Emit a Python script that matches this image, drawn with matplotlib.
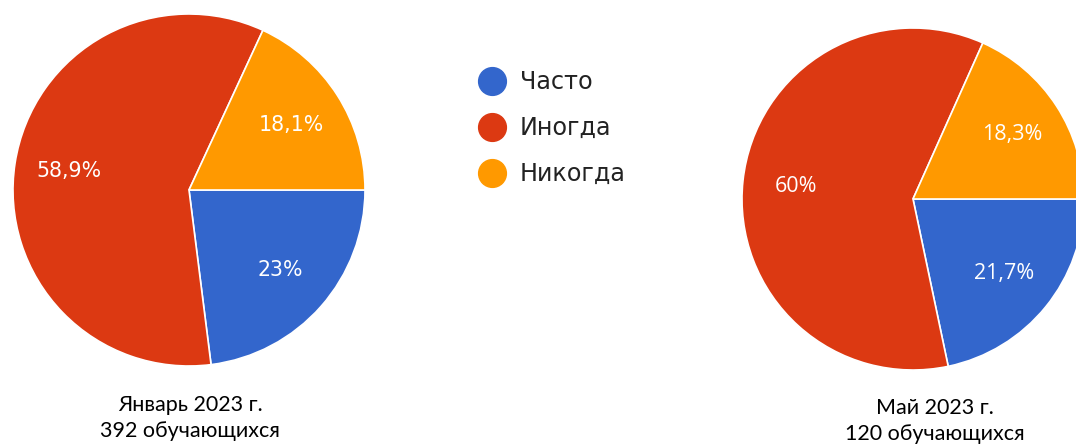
import matplotlib
matplotlib.use("Agg")
import matplotlib.pyplot as plt
import numpy as np
from matplotlib.lines import Line2D

# данные
categories = ["Часто", "Иногда", "Никогда"]
colors = ["#3366CC", "#DC3912", "#FF9900"]
jan_values = [23.0, 58.9, 18.1]
jan_labels = ["23%", "58,9%", "18,1%"]
may_values = [21.7, 60.0, 18.3]
may_labels = ["21,7%", "60%", "18,3%"]
jan_caption = ["Январь 2023 г.", "392 обучающихся"]
may_caption = ["Май 2023 г.", "120 обучающихся"]

W, H = 1076, 445
fig = plt.figure(figsize=(W / 100, H / 100), dpi=100)
fig.patch.set_facecolor("white")


def pie_axes(cx, cy, r):
    # оси в пикселях: центр (cx, cy) от левого верхнего угла, радиус r
    ax = fig.add_axes([(cx - r) / W, (H - cy - r) / H, 2 * r / W, 2 * r / H])
    return ax


def draw_pie(ax, values, labels, font):
    wedges, texts = ax.pie(values, colors=colors, startangle=0, counterclock=False,
                           radius=1, center=(0, 0), frame=True,
                           wedgeprops=dict(edgecolor="white", linewidth=1.2))
    ax.set_xlim(-1, 1)
    ax.set_ylim(-1, 1)
    ax.set_axis_off()
    # подписи процентов
    for w, lab in zip(wedges, labels):
        ang = np.deg2rad((w.theta1 + w.theta2) / 2)
        ax.text(0.69 * np.cos(ang), 0.69 * np.sin(ang), lab, color="white",
                ha="center", va="center", **font)
    return wedges


ax1 = pie_axes(189, 190, 176)
draw_pie(ax1, jan_values, jan_labels, dict(fontfamily="DejaVu Sans", fontsize=14.8))

ax2 = pie_axes(913, 199, 171)
draw_pie(ax2, may_values, may_labels, dict(fontfamily="Open Sans", fontsize=15.5))

# подписи под диаграммами (по строкам, по базовой линии)
for (x, y1, y2), lines in [((190, 411, 437), jan_caption), ((935, 414, 440), may_caption)]:
    fig.text(x / W, 1 - y1 / H, lines[0], ha="center", va="baseline",
             fontfamily="Lato", fontsize=15.5, color="black")
    fig.text(x / W, 1 - y2 / H, lines[1], ha="center", va="baseline",
             fontfamily="Lato", fontsize=15.5, color="black")

# легенда
handles = [Line2D([], [], marker="o", linestyle="none", markersize=20,
                  markerfacecolor=c, markeredgecolor=c) for c in colors]
fig.legend(handles, categories, loc="upper left", bbox_to_anchor=(478 / W, 1 - 70 / H),
           frameon=False, borderpad=0, borderaxespad=0, handlelength=1.15,
           handletextpad=0.6, labelspacing=0.92,
           prop=dict(family="DejaVu Sans", size=17.2), labelcolor="#222222")

fig.savefig("out.png", dpi=100)
